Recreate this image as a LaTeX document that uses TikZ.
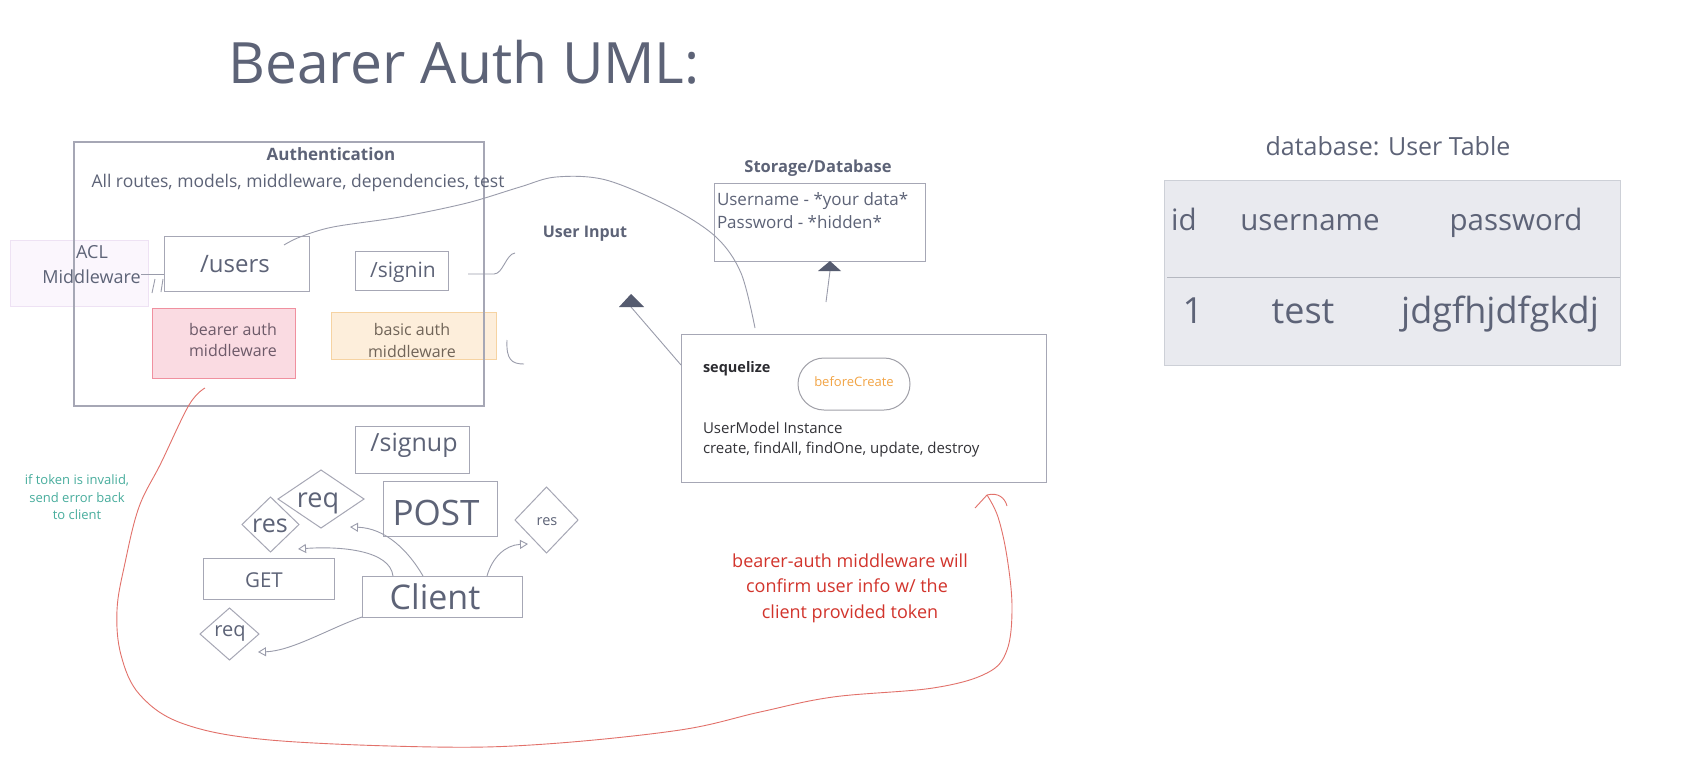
\documentclass[tikz,border=0pt]{standalone}
\usepackage{fontspec}
\setmainfont{Open Sans}
\usetikzlibrary{shapes.geometric,arrows.meta}
\definecolor{ink}{HTML}{5D6377}
\definecolor{bord}{HTML}{A6A7B5}
\definecolor{conn}{HTML}{9A9CAB}
\definecolor{aclf}{HTML}{FBF6FD}
\definecolor{acld}{HTML}{EEE2F4}
\definecolor{pinkf}{HTML}{FADBE2}
\definecolor{pinkd}{HTML}{F0909F}
\definecolor{orf}{HTML}{FDEEDB}
\definecolor{ord}{HTML}{F6D3A2}
\definecolor{tri}{HTML}{555B6F}
\definecolor{dark}{HTML}{2B2B30}
\definecolor{body}{HTML}{333338}
\definecolor{orangetx}{HTML}{F2A445}
\definecolor{redtx}{HTML}{D2342C}
\definecolor{redl}{HTML}{E2716A}
\definecolor{tealtx}{HTML}{48AD9D}
\definecolor{tabf}{HTML}{E9EAEF}
\definecolor{tabd}{HTML}{CDD0D7}
\definecolor{tabl}{HTML}{B5B8C0}
\definecolor{bearertx}{HTML}{6D5A69}
\definecolor{basictx}{HTML}{706458}
\definecolor{capsd}{HTML}{A0A0A8}
\begin{document}
\begin{tikzpicture}[x=1pt,y=-1pt,
  tx/.style={inner sep=0pt, outer sep=0pt, anchor=base, text=ink, font=\fontsize{#1}{#1}\selectfont},
  bx/.style={draw=bord, line width=1pt, inner sep=0pt, outer sep=0pt},
  dm/.style={diamond, draw=bord, line width=1pt, inner sep=0pt, outer sep=0pt},
  cn/.style={draw=conn, line width=0.9pt},
  tp/.style={-{Triangle[open,length=8pt,width=9pt]}},
  rl/.style={draw=redl, line width=0.9pt}]
\useasboundingbox (0,0) rectangle (1693,766);
\fill[white] (0,0) rectangle (1693,766);

% title
\node[tx=57] (title) at (464,83) {Bearer Auth UML:};

% authentication area
\node[bx, draw=acld, fill=aclf, minimum width=138pt, minimum height=66pt] (acl) at (79,273) {};
\node[bx, draw=pinkd, fill=pinkf, minimum width=143pt, minimum height=70pt] (bearer) at (223.5,343) {};
\node[bx, draw=ord, fill=orf, minimum width=165pt, minimum height=47pt] (basic) at (413.5,335.5) {};
\node[bx, line width=1.3pt, minimum width=410pt, minimum height=264pt] (auth) at (279,274) {};
\node[bx, minimum width=145pt, minimum height=55pt] (users) at (236.5,263.5) {};
\node[bx, minimum width=93pt, minimum height=39pt] (signin) at (401.5,270.5) {};

\node[tx=17] (authT) at (331,160) {\bfseries Authentication};
\node[tx=17.5] (authS) at (298,187) {All routes, models, middleware, dependencies, test};
\node[tx=18] (aclA) at (92,258) {ACL};
\node[tx=18] (aclB) at (91.5,283) {Middleware};
\node[tx=24] (usersT) at (235,272) {/users};
\node[tx=21] (signinT) at (403,277) {/signin};
\node[tx=16, text=bearertx] (bearA) at (233,335) {bearer auth};
\node[tx=16, text=bearertx] (bearB) at (233,356) {middleware};
\node[tx=16, text=basictx] (basA) at (412,335) {basic auth};
\node[tx=16, text=basictx] (basB) at (412,357) {middleware};

% storage
\node[tx=16.5] (storT) at (818,172) {\bfseries Storage/Database};
\node[bx, minimum width=211pt, minimum height=78pt] (storage) at (819.5,222) {};
\node[tx=17, anchor=base west] (storA) at (717,205) {Username - *your data*};
\node[tx=17, anchor=base west] (storB) at (717,228) {Password - *hidden*};

% user input
\node[tx=16] (uin) at (585,237) {\bfseries User Input};

% sequelize
\node[bx, minimum width=365pt, minimum height=148pt] (seq) at (863.5,408) {};
\node[tx=14.5, text=dark, anchor=base west] (seqT) at (703,372) {\bfseries sequelize};
\node[bx, draw=capsd, rounded corners=26pt, minimum width=112pt, minimum height=52pt] (bc) at (854,384) {};
\node[tx=13, text=orangetx] (bcT) at (854,386) {beforeCreate};
\node[tx=15, text=body, anchor=base west] (umA) at (703,433) {UserModel Instance};
\node[tx=15, text=body, anchor=base west] (umB) at (703,453) {create, findAll, findOne, update, destroy};

% triangles and their lines
\coordinate (uinTip) at (631,307);
\draw[cn] ([yshift=43pt]seq.west) -- (uinTip);
\fill[tri] (631,294) -- (619,307) -- (644,307) -- cycle;
\coordinate (stFoot) at (826,302);
\coordinate (stTip) at (830,271);
\draw[cn] (stFoot) -- (stTip);
\fill[tri] ([xshift=10.5pt]storage.south) -- ++(-12,10) -- ++(23,0) -- cycle;

% connectors in auth area
\draw[cn] (141,274) -- ([yshift=-10.5pt]users.west);
\draw[cn] (152,293) -- (155,279);
\draw[cn] (161,292) -- (163,279);
\draw[cn] plot[smooth,tension=0.55] coordinates {(284,245) (300,237) (333,227) (400,217) (467,203) (520,187) (556,177) (606,180) (670,207) (716,237) (741,273) (755,328)};
\draw[cn] (468,274) -- (494,274) .. controls (503,274) and (506,254) .. (515,253);
\draw[cn] (507,340) .. controls (506,360) and (512,364) .. (524,364);

% client area
\node[bx, minimum width=114pt, minimum height=47pt] (signup) at (412,449.5) {};
\node[bx, minimum width=114pt, minimum height=55pt] (post) at (440,508.5) {};
\node[bx, minimum width=131pt, minimum height=41pt] (get) at (268.5,578.5) {};
\node[bx, minimum width=160pt, minimum height=41pt] (client) at (442,596.5) {};
\node[dm, minimum width=86pt, minimum height=58pt] (reqA) at (321,499) {};
\node[dm, minimum width=57pt, minimum height=55pt] (resA) at (270.5,524.5) {};
\node[dm, minimum width=63pt, minimum height=66pt] (resB) at (546.5,520) {};
\node[dm, minimum width=59pt, minimum height=52pt] (reqB) at (229.5,634) {};

\node[tx=25] (signupT) at (414,451) {/signup};
\node[tx=35] (postT) at (436,525) {POST};
\node[tx=20.5] (getT) at (264,587) {GET};
\node[tx=34] (clientT) at (435,609) {Client};
\node[tx=27] (reqAT) at (318,507) {req};
\node[tx=25] (resAT) at (270,532) {res};
\node[tx=14.5] (resBT) at (547,525) {res};
\node[tx=20] (reqBT) at (230,636) {req};

\draw[cn, tp] ([xshift=-49pt]client.north) .. controls (390,550) and (340,546) .. (298,549);
\draw[cn, tp] ([xshift=-19pt]client.north) .. controls (408,550) and (385,528) .. (350,527);
\draw[cn, tp] ([xshift=45pt]client.north) .. controls (492,558) and (505,545) .. (528,544);
\draw[cn, tp] (client.south west) .. controls (330,628) and (292,651) .. (258,652);

% red loop
\draw[rl] plot[smooth, tension=0.6] coordinates {(205,388) (189,405) (161,463) (139,507) (125,563) (117,610) (121,655) (140,695) (184,724) (270,740) (435,747) (546,744) (680,730) (760,712) (833,697) (933,688) (987,673) (1007,650) (1012,607) (1007,557) (998,517) (987,495)};
\draw[rl] (975,508) -- (987,495) .. controls (998,492) and (1005,498) .. (1007,506);

% annotations
\node[tx=13, text=tealtx] (tealA) at (77,484) {if token is invalid,};
\node[tx=13, text=tealtx] (tealB) at (77,502) {send error back};
\node[tx=13, text=tealtx] (tealC) at (77,519) {to client};
\node[tx=18, text=redtx] (redA) at (850,567) {bearer-auth middleware will};
\node[tx=18, text=redtx] (redB) at (847,592) {confirm user info w/ the};
\node[tx=18, text=redtx] (redC) at (850,618) {client provided token};

% database table
\node[tx=25] (dbT) at (1388,155) {database: User Table};
\node[bx, draw=tabd, fill=tabf, minimum width=456pt, minimum height=185pt] (table) at (1392,272.5) {};
\draw[draw=tabl, line width=1pt] ([xshift=3pt,yshift=-97pt]table.north west) -- ([yshift=-97pt]table.north east);
\node[tx=29.5] (hId) at (1184,230) {id};
\node[tx=29.5] (hUser) at (1310,230) {username};
\node[tx=29.5] (hPass) at (1516,230) {password};
\node[tx=36] (rId) at (1193,323) {1};
\node[tx=36] (rUser) at (1303,323) {test};
\node[tx=36] (rPass) at (1500,323) {jdgfhjdfgkdj};
\end{tikzpicture}
\end{document}
